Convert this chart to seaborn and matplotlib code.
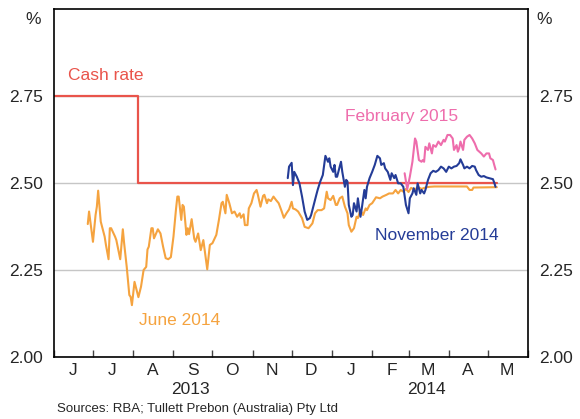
import pandas as pd
import seaborn as sns
import matplotlib.pyplot as plt
import matplotlib.dates as mdates
import matplotlib.transforms as mtransforms

# Cash rate (step series)
cash_dates = ['2013-06-01', '2013-08-05', '2014-05-08']
cash_vals = [2.75, 2.50, 2.50]

# June 2014 futures contract
jun_dates = ['2013-06-27', '2013-06-28', '2013-07-01', '2013-07-03', '2013-07-04', '2013-07-05', '2013-07-07',
             '2013-07-10', '2013-07-11', '2013-07-13', '2013-07-14', '2013-07-15', '2013-07-18', '2013-07-19',
             '2013-07-22', '2013-07-24', '2013-07-25', '2013-07-27', '2013-07-29', '2013-07-30', '2013-07-31',
             '2013-08-02', '2013-08-05', '2013-08-07', '2013-08-09', '2013-08-11', '2013-08-12', '2013-08-13',
             '2013-08-15', '2013-08-16', '2013-08-17', '2013-08-20', '2013-08-22', '2013-08-24', '2013-08-26',
             '2013-08-28', '2013-08-30', '2013-09-01', '2013-09-03', '2013-09-04', '2013-09-05', '2013-09-07',
             '2013-09-08', '2013-09-09', '2013-09-11', '2013-09-12', '2013-09-13', '2013-09-15', '2013-09-17',
             '2013-09-18', '2013-09-20', '2013-09-22', '2013-09-24', '2013-09-27', '2013-09-29', '2013-10-01',
             '2013-10-04', '2013-10-06', '2013-10-08', '2013-10-09', '2013-10-11', '2013-10-12', '2013-10-14',
             '2013-10-16', '2013-10-18', '2013-10-20', '2013-10-22', '2013-10-23', '2013-10-25', '2013-10-26',
             '2013-10-28', '2013-10-29', '2013-10-31', '2013-11-02', '2013-11-04', '2013-11-05', '2013-11-07',
             '2013-11-09', '2013-11-10', '2013-11-12', '2013-11-13', '2013-11-15', '2013-11-17', '2013-11-19',
             '2013-11-21', '2013-11-23', '2013-11-25', '2013-11-27', '2013-11-29', '2013-12-01', '2013-12-02',
             '2013-12-04', '2013-12-06', '2013-12-09', '2013-12-11', '2013-12-14', '2013-12-17', '2013-12-19',
             '2013-12-21', '2013-12-24', '2013-12-26', '2013-12-28', '2013-12-29', '2013-12-31', '2014-01-02',
             '2014-01-04', '2014-01-05', '2014-01-07', '2014-01-09', '2014-01-11', '2014-01-13', '2014-01-14',
             '2014-01-16', '2014-01-18', '2014-01-20', '2014-01-21', '2014-01-23', '2014-01-25', '2014-01-27',
             '2014-01-28', '2014-01-30', '2014-02-01', '2014-02-04', '2014-02-07', '2014-02-09', '2014-02-12',
             '2014-02-14', '2014-02-17', '2014-02-19', '2014-02-21', '2014-02-23', '2014-02-25', '2014-02-27',
             '2014-03-01', '2014-03-03', '2014-03-06', '2014-03-08', '2014-03-11', '2014-03-14', '2014-03-17',
             '2014-03-21', '2014-04-15', '2014-04-17', '2014-04-19', '2014-04-20', '2014-05-08']
jun_vals = [2.382, 2.418, 2.331, 2.408, 2.432, 2.478, 2.389,
            2.346, 2.322, 2.281, 2.370, 2.370, 2.346, 2.336,
            2.281, 2.367, 2.327, 2.259, 2.178, 2.173, 2.149,
            2.216, 2.172, 2.202, 2.250, 2.259, 2.309, 2.317,
            2.370, 2.370, 2.341, 2.367, 2.355, 2.317, 2.284,
            2.281, 2.287, 2.346, 2.427, 2.461, 2.461, 2.394,
            2.437, 2.432, 2.351, 2.370, 2.353, 2.396, 2.340,
            2.331, 2.355, 2.307, 2.336, 2.252, 2.322, 2.327,
            2.351, 2.394, 2.442, 2.446, 2.413, 2.466, 2.442,
            2.413, 2.418, 2.403, 2.413, 2.400, 2.410, 2.379,
            2.379, 2.427, 2.442, 2.470, 2.480, 2.466, 2.432,
            2.463, 2.466, 2.442, 2.453, 2.448, 2.461, 2.451,
            2.442, 2.422, 2.400, 2.413, 2.424, 2.446, 2.427,
            2.424, 2.418, 2.399, 2.374, 2.370, 2.384, 2.413,
            2.422, 2.422, 2.427, 2.475, 2.456, 2.451, 2.463,
            2.437, 2.437, 2.456, 2.461, 2.432, 2.413, 2.379,
            2.360, 2.370, 2.403, 2.399, 2.422, 2.408, 2.427,
            2.422, 2.437, 2.442, 2.459, 2.456, 2.461, 2.466,
            2.470, 2.470, 2.480, 2.470, 2.480, 2.475, 2.483,
            2.474, 2.486, 2.480, 2.489, 2.483, 2.487, 2.489,
            2.490, 2.490, 2.480, 2.480, 2.487, 2.488]

# November 2014 futures contract
nov_dates = ['2013-11-28', '2013-11-29', '2013-12-01', '2013-12-02', '2013-12-03', '2013-12-05', '2013-12-07',
             '2013-12-09', '2013-12-11', '2013-12-13', '2013-12-15', '2013-12-16', '2013-12-18', '2013-12-20',
             '2013-12-21', '2013-12-23', '2013-12-25', '2013-12-27', '2013-12-29', '2013-12-30', '2013-12-31',
             '2014-01-02', '2014-01-03', '2014-01-04', '2014-01-05', '2014-01-07', '2014-01-08', '2014-01-09',
             '2014-01-11', '2014-01-12', '2014-01-13', '2014-01-14', '2014-01-16', '2014-01-17', '2014-01-18',
             '2014-01-20', '2014-01-21', '2014-01-23', '2014-01-24', '2014-01-26', '2014-01-27', '2014-01-28',
             '2014-01-30', '2014-02-01', '2014-02-03', '2014-02-05', '2014-02-07', '2014-02-08', '2014-02-10',
             '2014-02-11', '2014-02-13', '2014-02-15', '2014-02-16', '2014-02-18', '2014-02-19', '2014-02-21',
             '2014-02-23', '2014-02-25', '2014-02-27', '2014-03-01', '2014-03-02', '2014-03-04', '2014-03-05',
             '2014-03-07', '2014-03-08', '2014-03-10', '2014-03-11', '2014-03-13', '2014-03-14', '2014-03-16',
             '2014-03-18', '2014-03-20', '2014-03-22', '2014-03-24', '2014-03-26', '2014-03-28', '2014-03-30',
             '2014-04-01', '2014-04-03', '2014-04-05', '2014-04-07', '2014-04-09', '2014-04-10', '2014-04-12',
             '2014-04-13', '2014-04-15', '2014-04-17', '2014-04-19', '2014-04-21', '2014-04-22', '2014-04-24',
             '2014-04-26', '2014-04-28', '2014-04-30', '2014-05-02', '2014-05-05', '2014-05-06', '2014-05-07']
nov_vals = [2.514, 2.547, 2.558, 2.494, 2.532, 2.518, 2.499,
            2.461, 2.418, 2.394, 2.399, 2.408, 2.437, 2.466,
            2.480, 2.504, 2.523, 2.578, 2.561, 2.571, 2.547,
            2.532, 2.552, 2.518, 2.518, 2.547, 2.561, 2.532,
            2.489, 2.509, 2.504, 2.437, 2.403, 2.408, 2.442,
            2.418, 2.456, 2.403, 2.427, 2.480, 2.456, 2.489,
            2.514, 2.532, 2.552, 2.578, 2.571, 2.552, 2.557,
            2.542, 2.532, 2.509, 2.528, 2.514, 2.523, 2.499,
            2.499, 2.489, 2.437, 2.413, 2.456, 2.470, 2.485,
            2.466, 2.499, 2.470, 2.480, 2.470, 2.480, 2.509,
            2.528, 2.535, 2.532, 2.537, 2.547, 2.542, 2.532,
            2.547, 2.542, 2.547, 2.549, 2.557, 2.568, 2.552,
            2.542, 2.547, 2.542, 2.549, 2.547, 2.537, 2.523,
            2.518, 2.520, 2.516, 2.514, 2.511, 2.501, 2.489]

# February 2015 futures contract
feb_dates = ['2014-02-26', '2014-02-28', '2014-03-02', '2014-03-04', '2014-03-06', '2014-03-07', '2014-03-09',
             '2014-03-11', '2014-03-12', '2014-03-13', '2014-03-14', '2014-03-16', '2014-03-17', '2014-03-19',
             '2014-03-20', '2014-03-22', '2014-03-24', '2014-03-26', '2014-03-28', '2014-03-29', '2014-03-31',
             '2014-04-02', '2014-04-04', '2014-04-05', '2014-04-07', '2014-04-08', '2014-04-09', '2014-04-10',
             '2014-04-12', '2014-04-13', '2014-04-15', '2014-04-17', '2014-04-19', '2014-04-21', '2014-04-23',
             '2014-04-26', '2014-04-28', '2014-04-30', '2014-05-02', '2014-05-03', '2014-05-05', '2014-05-06',
             '2014-05-07']
feb_vals = [2.528, 2.482, 2.518, 2.561, 2.628, 2.619, 2.566,
            2.561, 2.566, 2.561, 2.604, 2.595, 2.614, 2.585,
            2.609, 2.604, 2.619, 2.609, 2.624, 2.619, 2.638,
            2.638, 2.628, 2.595, 2.609, 2.590, 2.600, 2.619,
            2.595, 2.624, 2.633, 2.638, 2.628, 2.614, 2.595,
            2.585, 2.576, 2.585, 2.585, 2.571, 2.566, 2.552,
            2.539]

red = '#E9544B'
orange = '#F5A33F'
navy = '#243C97'
pink = '#EE6DAC'

sns.set_style('white')
plt.rcParams['font.family'] = ['Liberation Sans', 'DejaVu Sans']

fig = plt.figure(figsize=(5.8, 4.19), dpi=100)
ax = fig.add_axes([54 / 580, 62 / 419, 474 / 580, 348 / 419])

ax.yaxis.grid(True, color='#C6C6C6', linewidth=1)
ax.set_axisbelow(True)

sns.lineplot(x=pd.to_datetime(cash_dates), y=cash_vals, color=red, linewidth=1.6,
             drawstyle='steps-post', ax=ax)
sns.lineplot(x=pd.to_datetime(jun_dates), y=jun_vals, color=orange, linewidth=1.5, ax=ax)
sns.lineplot(x=pd.to_datetime(nov_dates), y=nov_vals, color=navy, linewidth=1.5, ax=ax)
sns.lineplot(x=pd.to_datetime(feb_dates), y=feb_vals, color=pink, linewidth=1.5, ax=ax)

ax.set_xlim(pd.Timestamp('2013-06-01'), pd.Timestamp('2014-06-01'))
ax.set_ylim(2.0, 3.0)
ax.set_yticks([2.0, 2.25, 2.5, 2.75])
ax.set_yticklabels(['2.00', '2.25', '2.50', '2.75'])
ax.tick_params(axis='y', length=0, labelsize=12.5, labelright=True, pad=8)

# month starts get the tick marks, mid-month gets the initial
ax.xaxis.set_major_locator(mdates.MonthLocator())
ax.xaxis.set_major_formatter(plt.NullFormatter())
ax.xaxis.set_minor_locator(mdates.MonthLocator(bymonthday=16))
ax.xaxis.set_minor_formatter(plt.FuncFormatter(lambda v, pos: mdates.num2date(v).strftime('%b')[0]))
ax.tick_params(axis='x', which='major', bottom=True, direction='in', length=5, width=1, color='#444444')
ax.tick_params(axis='x', which='minor', bottom=True, length=0, labelsize=12.5, pad=4)

for s in ax.spines.values():
    s.set_visible(True)
    s.set_color('black')
    s.set_linewidth(1.2)

ax.set_xlabel('')
ax.set_ylabel('')

# year labels under the month initials
trans = mtransforms.blended_transform_factory(ax.transData, ax.transAxes)
ax.text(pd.Timestamp('2013-09-14'), -0.092, '2013', transform=trans, ha='center', va='center', fontsize=12.5)
ax.text(pd.Timestamp('2014-03-15'), -0.092, '2014', transform=trans, ha='center', va='center', fontsize=12.5)

ax.text(-0.045, 0.97, '%', transform=ax.transAxes, ha='center', va='center', fontsize=12.5)
ax.text(1.035, 0.97, '%', transform=ax.transAxes, ha='center', va='center', fontsize=12.5)

ax.text(0.03, 0.81, 'Cash rate', transform=ax.transAxes, color=red, ha='left', va='center', fontsize=12.5)
ax.text(0.734, 0.69, 'February 2015', transform=ax.transAxes, color=pink, ha='center', va='center', fontsize=12.5)
ax.text(0.808, 0.35, 'November 2014', transform=ax.transAxes, color=navy, ha='center', va='center', fontsize=12.5)
ax.text(0.264, 0.106, 'June 2014', transform=ax.transAxes, color=orange, ha='center', va='center', fontsize=12.5)

fig.text(57 / 580, 1 - 409 / 419, 'Sources: RBA; Tullett Prebon (Australia) Pty Ltd', ha='left', va='center',
         fontsize=9.5)

fig.savefig('out.png', dpi=100)
